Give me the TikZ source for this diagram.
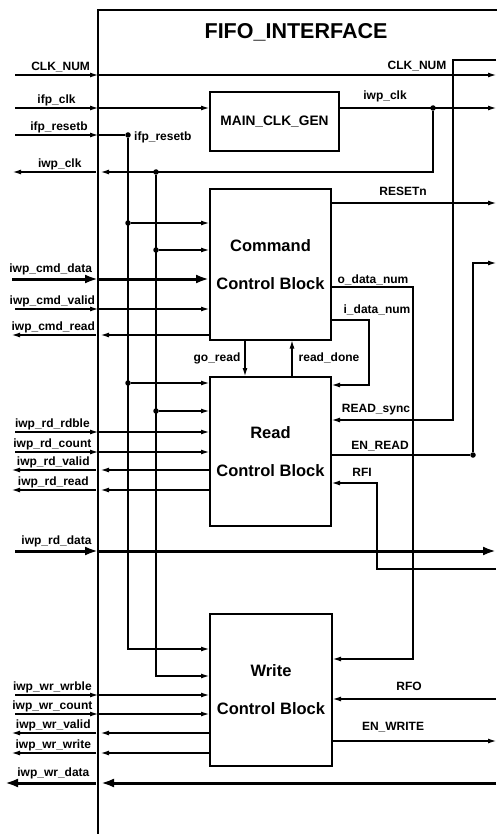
\documentclass[tikz,border=0pt]{standalone}
\usepackage{fontspec}
\setmainfont{Liberation Sans}
\usetikzlibrary{arrows.meta}

\tikzset{
  sig/.style={line width=1.1pt,-{Latex[length=8pt,width=5pt]}},
  wire/.style={line width=1.1pt},
  bus/.style={line width=3pt,-{Latex[length=13pt,width=9pt]}},
  block/.style={draw,line width=2pt,minimum width=121pt,minimum height=150pt,
    inner sep=0pt,align=center,font=\fontsize{16.5}{38}\selectfont\bfseries},
  lbl/.style={inner sep=1pt,text height=8.6pt,text depth=2.6pt,
    font=\fontsize{12}{12}\selectfont\bfseries},
  dot/.style={circle,fill,inner sep=0pt,minimum size=5.5pt},
}

\begin{document}
\begin{tikzpicture}[x=1pt,y=-1pt]
\useasboundingbox (0,0) rectangle (497,834);

% interface outline
\coordinate (wall) at (98,10);
\coordinate (wallend) at (98,834);
\coordinate (re) at (496,10);
\draw[line width=1.4pt] (wallend) -- (wall) -- (497,10);
\node[font=\fontsize{21.5}{22}\selectfont\bfseries] (title) at (296,32) {FIFO\_INTERFACE};

% blocks
\node[block,minimum width=129pt,minimum height=59pt,
  font=\fontsize{13.7}{14}\selectfont\bfseries] (gen) at (274.5,121.5) {MAIN\_CLK\_GEN};
\node[block] (cmd) at (270.5,264.5) {Command\\Control Block};
\node[block,minimum height=149pt] (rd) at (270.5,451.5) {Read\\Control Block};
\node[block,minimum width=122pt,minimum height=152pt] (wr) at (271,690) {Write\\Control Block};

% clock number, clock, reset
\coordinate (pnum) at (15,75);
\draw[sig] (pnum) -- (pnum -| wall) node[lbl,pos=0.55,above] {CLK\_NUM};
\draw[sig] (pnum -| wall) -- (pnum -| re);
\node[lbl] (lnum) at (417,67) {CLK\_NUM};

\coordinate (pclk) at (15,108);
\draw[sig] (pclk) -- (pclk -| wall) node[lbl,pos=0.5,above] {ifp\_clk};
\draw[sig] (pclk -| wall) -- (pclk -| gen.west);
\node[dot] (clko) at (433,108) {};
\draw[sig] (gen.east |- clko) -- (re |- clko);
\node[lbl] (lclko) at (385,97) {iwp\_clk};

\coordinate (prst) at (15,135);
\node[dot] (rst) at (128,135) {};
\draw[sig] (prst) -- (prst -| wall) node[lbl,pos=0.53,above] {ifp\_resetb};
\draw[wire] (prst -| wall) -- (rst);
\node[lbl,anchor=west] (lrst) at (133,138) {ifp\_resetb};

\node[dot] (clkt) at (156,172) {};
\coordinate (pclkout) at (13,172);
\draw[sig,shorten >=3pt] (clko) |- (wall |- clkt);
\draw[sig,shorten <=2pt] (wall |- clkt) -- (pclkout) node[lbl,pos=0.45,above] {iwp\_clk};

% reset and clock taps
\node[dot] (rc) at (128,223) {};
\node[dot] (kc) at (156,250) {};
\node[dot] (rr) at (128,383) {};
\node[dot] (kr) at (156,411) {};
\draw[sig] (rc) -- (rc -| cmd.west);
\draw[sig] (kc) -- (kc -| cmd.west);
\draw[sig] (rr) -- (rr -| rd.west);
\draw[sig] (kr) -- (kr -| rd.west);
\draw[sig] (rst) |- (wr.west |- 0,649);
\draw[sig] (clkt) |- (wr.west |- 0,676);

% left ports
\foreach \y/\txt/\blk in {309/iwp\_cmd\_valid/cmd,432/iwp\_rd\_rdble/rd,
    452/iwp\_rd\_count/rd,695/iwp\_wr\_wrble/wr,714/iwp\_wr\_count/wr}{
  \coordinate (pin) at (15,\y);
  \draw[sig] (pin) -- (pin -| wall) node[lbl,pos=0.45,above] {\txt};
  \draw[sig] (pin -| wall) -- (pin -| \blk.west);
}
\foreach \y/\txt/\blk in {335/iwp\_cmd\_read/cmd,470/iwp\_rd\_valid/rd,
    490/iwp\_rd\_read/rd,733/iwp\_wr\_valid/wr,753/iwp\_wr\_write/wr}{
  \coordinate (pout) at (12,\y);
  \draw[sig,shorten >=3pt] (pout -| \blk.west) -- (pout -| wall);
  \draw[sig,shorten <=2pt] (pout -| wall) -- (pout) node[lbl,pos=0.52,above] {\txt};
}

% data buses
\coordinate (pcd) at (12,279);
\draw[bus] (pcd) -- (pcd -| wall) node[lbl,pos=0.45,above=1.5pt] {iwp\_cmd\_data};
\draw[bus] (pcd -| wall) -- (pcd -| cmd.west);

\coordinate (prd) at (15,551);
\draw[bus] (prd) -- (prd -| wall) node[lbl,pos=0.5,above=1.5pt] {iwp\_rd\_data};
\draw[bus] (prd -| wall) -- (prd -| re);

\coordinate (pwd) at (5,783);
\draw[bus,shorten >=3pt] (re |- pwd) -- (wall |- pwd);
\draw[bus,shorten <=2pt] (wall |- pwd) -- (pwd) node[lbl,pos=0.48,above=1.5pt] {iwp\_wr\_data};

% command block outputs
\draw[sig] (cmd.east |- 0,203) -- (re |- 0,203);
\node[lbl] (lreset) at (403,193) {RESETn};
\coordinate (odn) at (413,287);
\draw[sig] (cmd.east |- odn) -- (odn) |- (wr.east |- 0,659);
\node[lbl] (lodn) at (373,280) {o\_data\_num};
\coordinate (idn) at (369,320);
\draw[sig] (cmd.east |- idn) -- (idn) |- (rd.east |- 0,385);
\node[lbl] (lidn) at (377,310) {i\_data\_num};

% handshake
\draw[sig] (cmd.south -| 245,0) -- (rd.north -| 245,0);
\node[lbl] (lgo) at (217,358) {go\_read};
\draw[sig] (rd.north -| 292,0) -- (cmd.south -| 292,0);
\node[lbl] (ldone) at (329,358) {read\_done};

% read block, right side
\coordinate (rsin) at (496,60);
\coordinate (rsx) at (453,60);
\draw[sig] (rsin) -- (rsx) |- (rd.east |- 0,420);
\node[lbl] (lsync) at (376,409) {READ\_sync};

\node[dot] (enrd) at (473,455) {};
\draw[wire] (rd.east |- enrd) -- (enrd);
\draw[sig] (enrd) |- (re |- 0,263);
\node[lbl] (lenrd) at (380,446) {EN\_READ};

\coordinate (rfiin) at (496,569);
\coordinate (rfix) at (377,483);
\draw[sig] (rfiin) -| (rfix) -- (rfix -| rd.east);
\node[lbl] (lrfi) at (362,473) {RFI};

% write block, right side
\draw[sig] (re |- 0,699) -- (wr.east |- 0,699);
\node[lbl] (lrfo) at (409,687) {RFO};
\draw[sig] (wr.east |- 0,741) -- (re |- 0,741);
\node[lbl] (lenwr) at (393,727) {EN\_WRITE};
\end{tikzpicture}
\end{document}
